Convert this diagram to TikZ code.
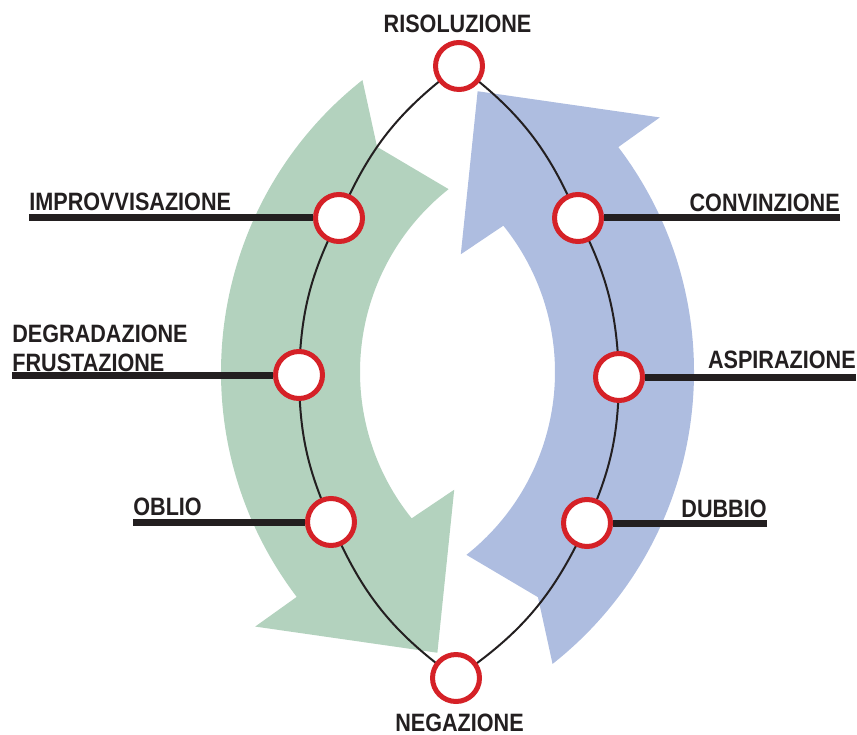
\documentclass[tikz,border=0pt]{standalone}
\usepackage{fontspec}
\usepackage{tikz}
\usetikzlibrary{backgrounds}
\newfontfamily\lblfont{Liberation Sans}[FakeStretch=0.86]
\definecolor{ringred}{RGB}{213,33,39}
\definecolor{sage}{RGB}{179,210,190}
\definecolor{periwinkle}{RGB}{174,189,224}
\definecolor{ink}{RGB}{35,31,32}
\tikzset{font=\lblfont\bfseries\fontsize{14.3pt}{16.5pt}\selectfont}
\tikzset{stage/.style={circle, draw=ringred, line width=0.1cm, fill=white, minimum size=0.94cm, inner sep=0pt}}
\tikzset{lbl/.style={inner sep=0pt, text=ink}}
\tikzset{leader/.style={draw=ink, line width=0.14cm}}
\tikzset{cycleline/.style={draw=ink, line width=0.04cm}}

\begin{document}
\begin{tikzpicture}[x=0.02cm, y=0.02cm]
  \useasboundingbox (0,0) rectangle (857,734);
  % stages on the cycle
  \node[stage] (ris)  at (459,668) {};
  \node[stage] (impr) at (339,516) {};
  \node[stage] (degr) at (299,359) {};
  \node[stage] (obl)  at (331,212) {};
  \node[stage] (neg)  at (456,56) {};
  \node[stage] (conv) at (578,516) {};
  \node[stage] (aspi) at (619,357) {};
  \node[stage] (dub)  at (587,211) {};
  % labels
  \node[lbl, anchor=base] (ris-l) at (457.5,701) {RISOLUZIONE};
  \node[lbl, anchor=base] (neg-l) at (459.5,3) {NEGAZIONE};
  \node[lbl, anchor=base west] (impr-l) at (29,523) {IMPROVVISAZIONE};
  \node[lbl, anchor=south west, align=left] (degr-l) at (12,362) {DEGRADAZIONE\\FRUSTAZIONE};
  \node[lbl, anchor=base west] (obl-l) at (133,219) {OBLIO};
  \node[lbl, anchor=base east] (conv-l) at (840,522) {CONVINZIONE};
  \node[lbl, anchor=base east] (aspi-l) at (856,366) {ASPIRAZIONE};
  \node[lbl, anchor=base east] (dub-l) at (767,217) {DUBBIO};
  \begin{pgfonlayer}{background}
    \foreach \cx/\rot/\col in {593/0/sage, 322/180/periwinkle} {
      \fill[\col, shift={(\cx,362)}, rotate=\rot] (128.3:372)
        arc[start angle=128.3, end angle=217.2, radius=372] -- (217:423) -- (241:321)
        -- (220.3:182) -- (218.9:233)
        arc[start angle=218.9, end angle=128.3, radius=233] -- (133.8:312) -- cycle;
    }
    \draw[cycleline] (ris.center) to[bend right=15] (impr.center) to[bend right=12.6] (degr.center)
      to[bend right=11.7] (obl.center) to[bend right=15.6] (neg.center);
    \draw[cycleline] (ris.center) to[bend left=15] (conv.center) to[bend left=12.6] (aspi.center)
      to[bend left=11.7] (dub.center) to[bend left=15.6] (neg.center);
    \draw[leader] (impr-l.base west |- impr) -- (impr);
    \draw[leader] (degr-l.south west |- degr) -- (degr);
    \draw[leader] (obl-l.base west |- obl) -- (obl);
    \draw[leader] (conv-l.base east |- conv) -- (conv);
    \draw[leader] (aspi-l.base east |- aspi) -- (aspi);
    \draw[leader] (dub-l.base east |- dub) -- (dub);
  \end{pgfonlayer}
\end{tikzpicture}
\end{document}
